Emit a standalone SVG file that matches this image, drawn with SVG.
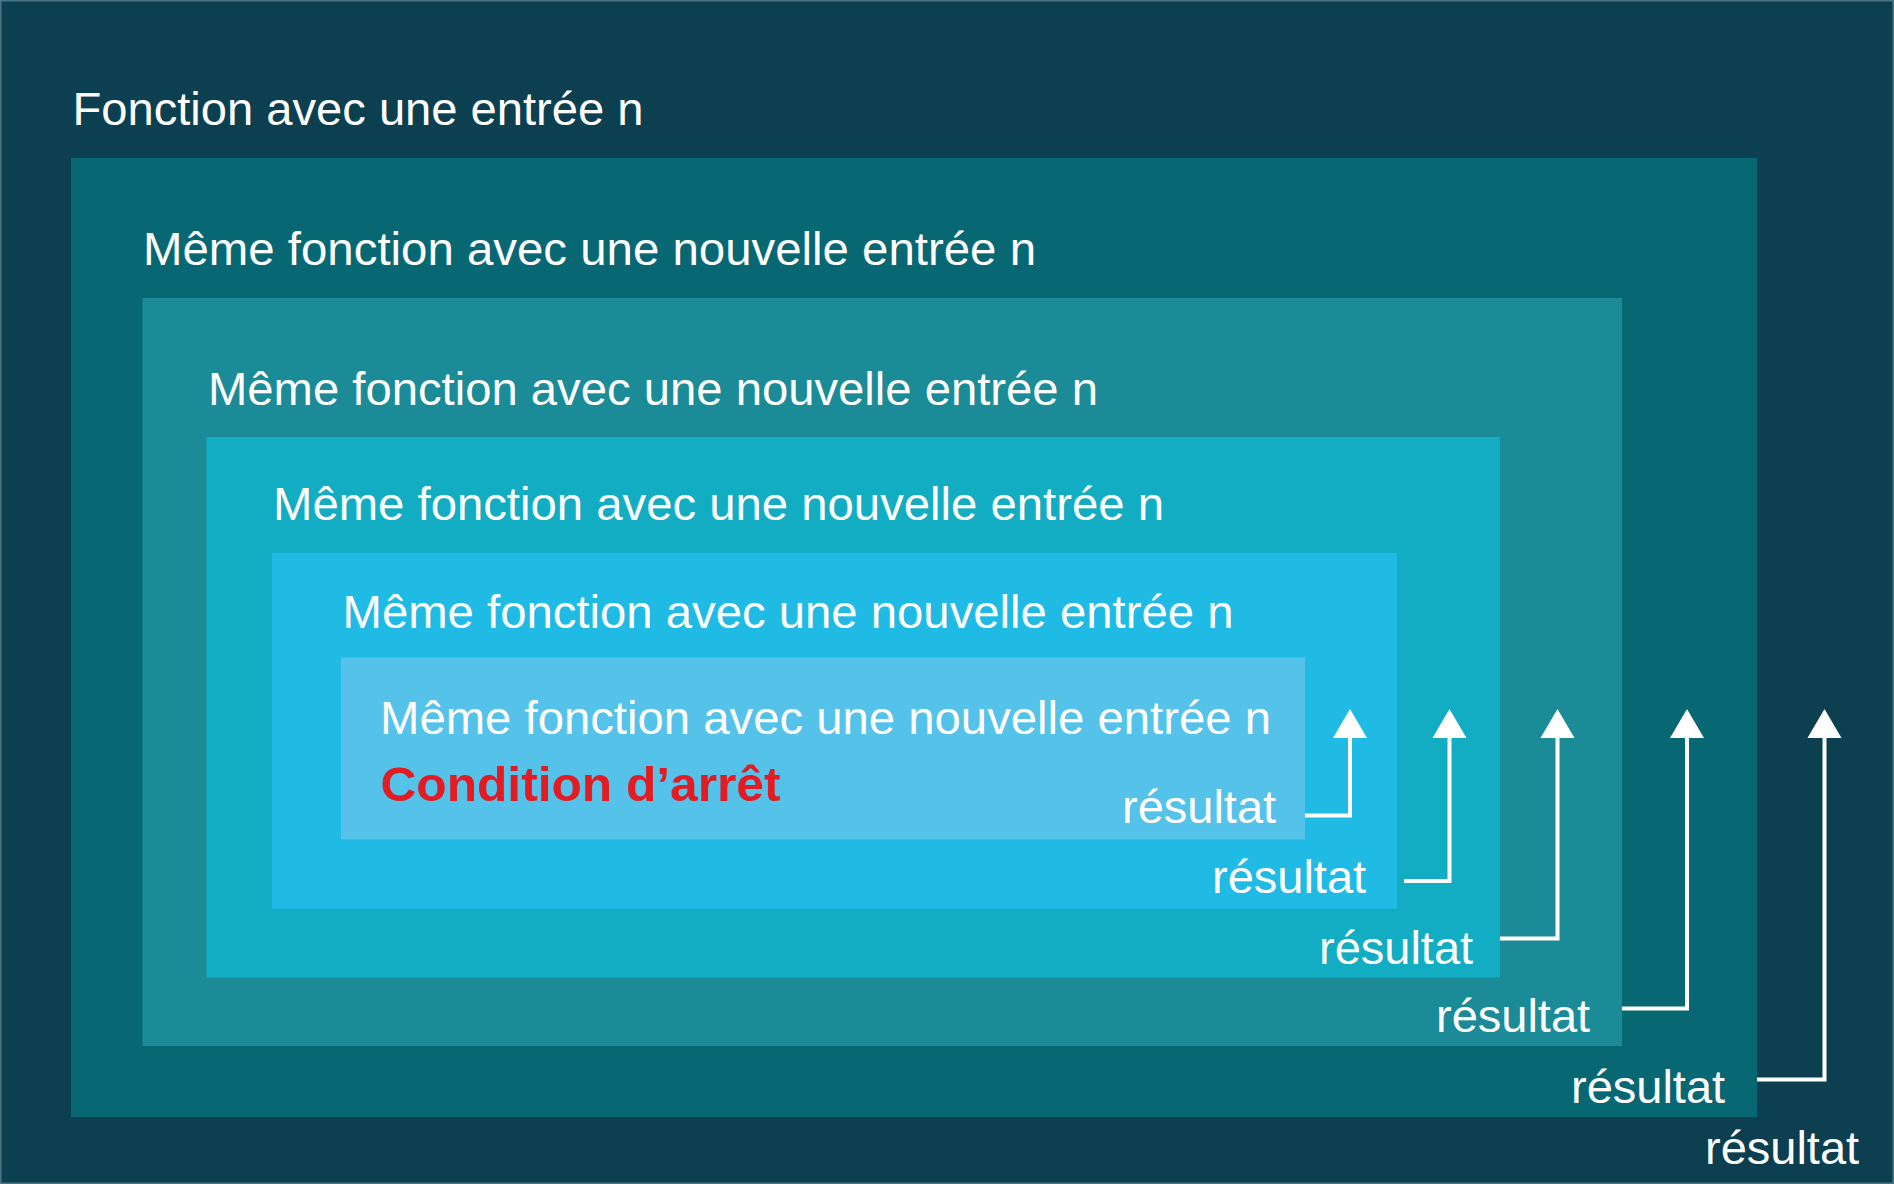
<svg xmlns="http://www.w3.org/2000/svg" width="1894" height="1191" viewBox="0 0 1894 1191">
  <style>
    .t { font-family: "Liberation Sans", Arial, Helvetica, sans-serif; font-size: 47px; fill: #ffffff; }
    .red { font-family: "Liberation Sans", Arial, Helvetica, sans-serif; font-size: 48px; font-weight: bold; fill: #e31b23; }
    .conn { fill: none; stroke: #ffffff; stroke-width: 4; stroke-linejoin: miter; marker-end: url(#arrow); }
  </style>
  <defs>
    <marker id="arrow" markerUnits="userSpaceOnUse" viewBox="0 -17 29 34" refX="1" refY="0" markerWidth="29" markerHeight="34" orient="auto" overflow="visible">
      <polygon points="0,-17 29,0 0,17" fill="#ffffff"/>
    </marker>
  </defs>
  <rect x="0" y="0" width="1894" height="1191" fill="#ffffff"/>
  <g id="level0">
    <rect x="0.75" y="0.75" width="1892.5" height="1182.5" fill="#0c4051" stroke="#4a7683" stroke-width="1.5"/>
    <text class="t" x="72.5" y="125" textLength="571" lengthAdjust="spacingAndGlyphs">Fonction avec une entrée n</text>
    <text class="t" x="1705" y="1164">résultat</text>
  </g>
  <g id="level1">
    <rect x="71" y="158" width="1686" height="959" fill="#076874"/>
    <text class="t" x="143" y="265" textLength="893" lengthAdjust="spacingAndGlyphs">Même fonction avec une nouvelle entrée n</text>
    <text class="t" x="1571" y="1103">résultat</text>
  </g>
  <g id="level2">
    <rect x="142.5" y="298" width="1479.5" height="748" fill="#1b8b98"/>
    <text class="t" x="208" y="405" textLength="890" lengthAdjust="spacingAndGlyphs">Même fonction avec une nouvelle entrée n</text>
    <text class="t" x="1436" y="1032">résultat</text>
  </g>
  <g id="level3">
    <rect x="206.5" y="437" width="1293.5" height="540.5" fill="#12adc2"/>
    <text class="t" x="273" y="519.5" textLength="891" lengthAdjust="spacingAndGlyphs">Même fonction avec une nouvelle entrée n</text>
    <text class="t" x="1319" y="964">résultat</text>
  </g>
  <g id="level4">
    <rect x="272" y="553" width="1125" height="355.5" fill="#1fbbe5"/>
    <text class="t" x="342.5" y="628" textLength="891" lengthAdjust="spacingAndGlyphs">Même fonction avec une nouvelle entrée n</text>
    <text class="t" x="1212" y="893">résultat</text>
  </g>
  <g id="level5">
    <rect x="341" y="657.5" width="964" height="182" fill="#54c2e9"/>
    <text class="t" x="380" y="733.5" textLength="891" lengthAdjust="spacingAndGlyphs">Même fonction avec une nouvelle entrée n</text>
    <text class="red" x="380.5" y="801" textLength="400" lengthAdjust="spacingAndGlyphs">Condition d’arrêt</text>
    <text class="t" x="1122" y="823">résultat</text>
  </g>
  <g id="connectors">
    <path class="conn" d="M1305,815.5 H1350 V737"/>
    <path class="conn" d="M1404,881 H1449.5 V737"/>
    <path class="conn" d="M1500,938.5 H1557.5 V737"/>
    <path class="conn" d="M1622,1008.5 H1687 V737"/>
    <path class="conn" d="M1757,1079.5 H1824.5 V737"/>
  </g>
</svg>
